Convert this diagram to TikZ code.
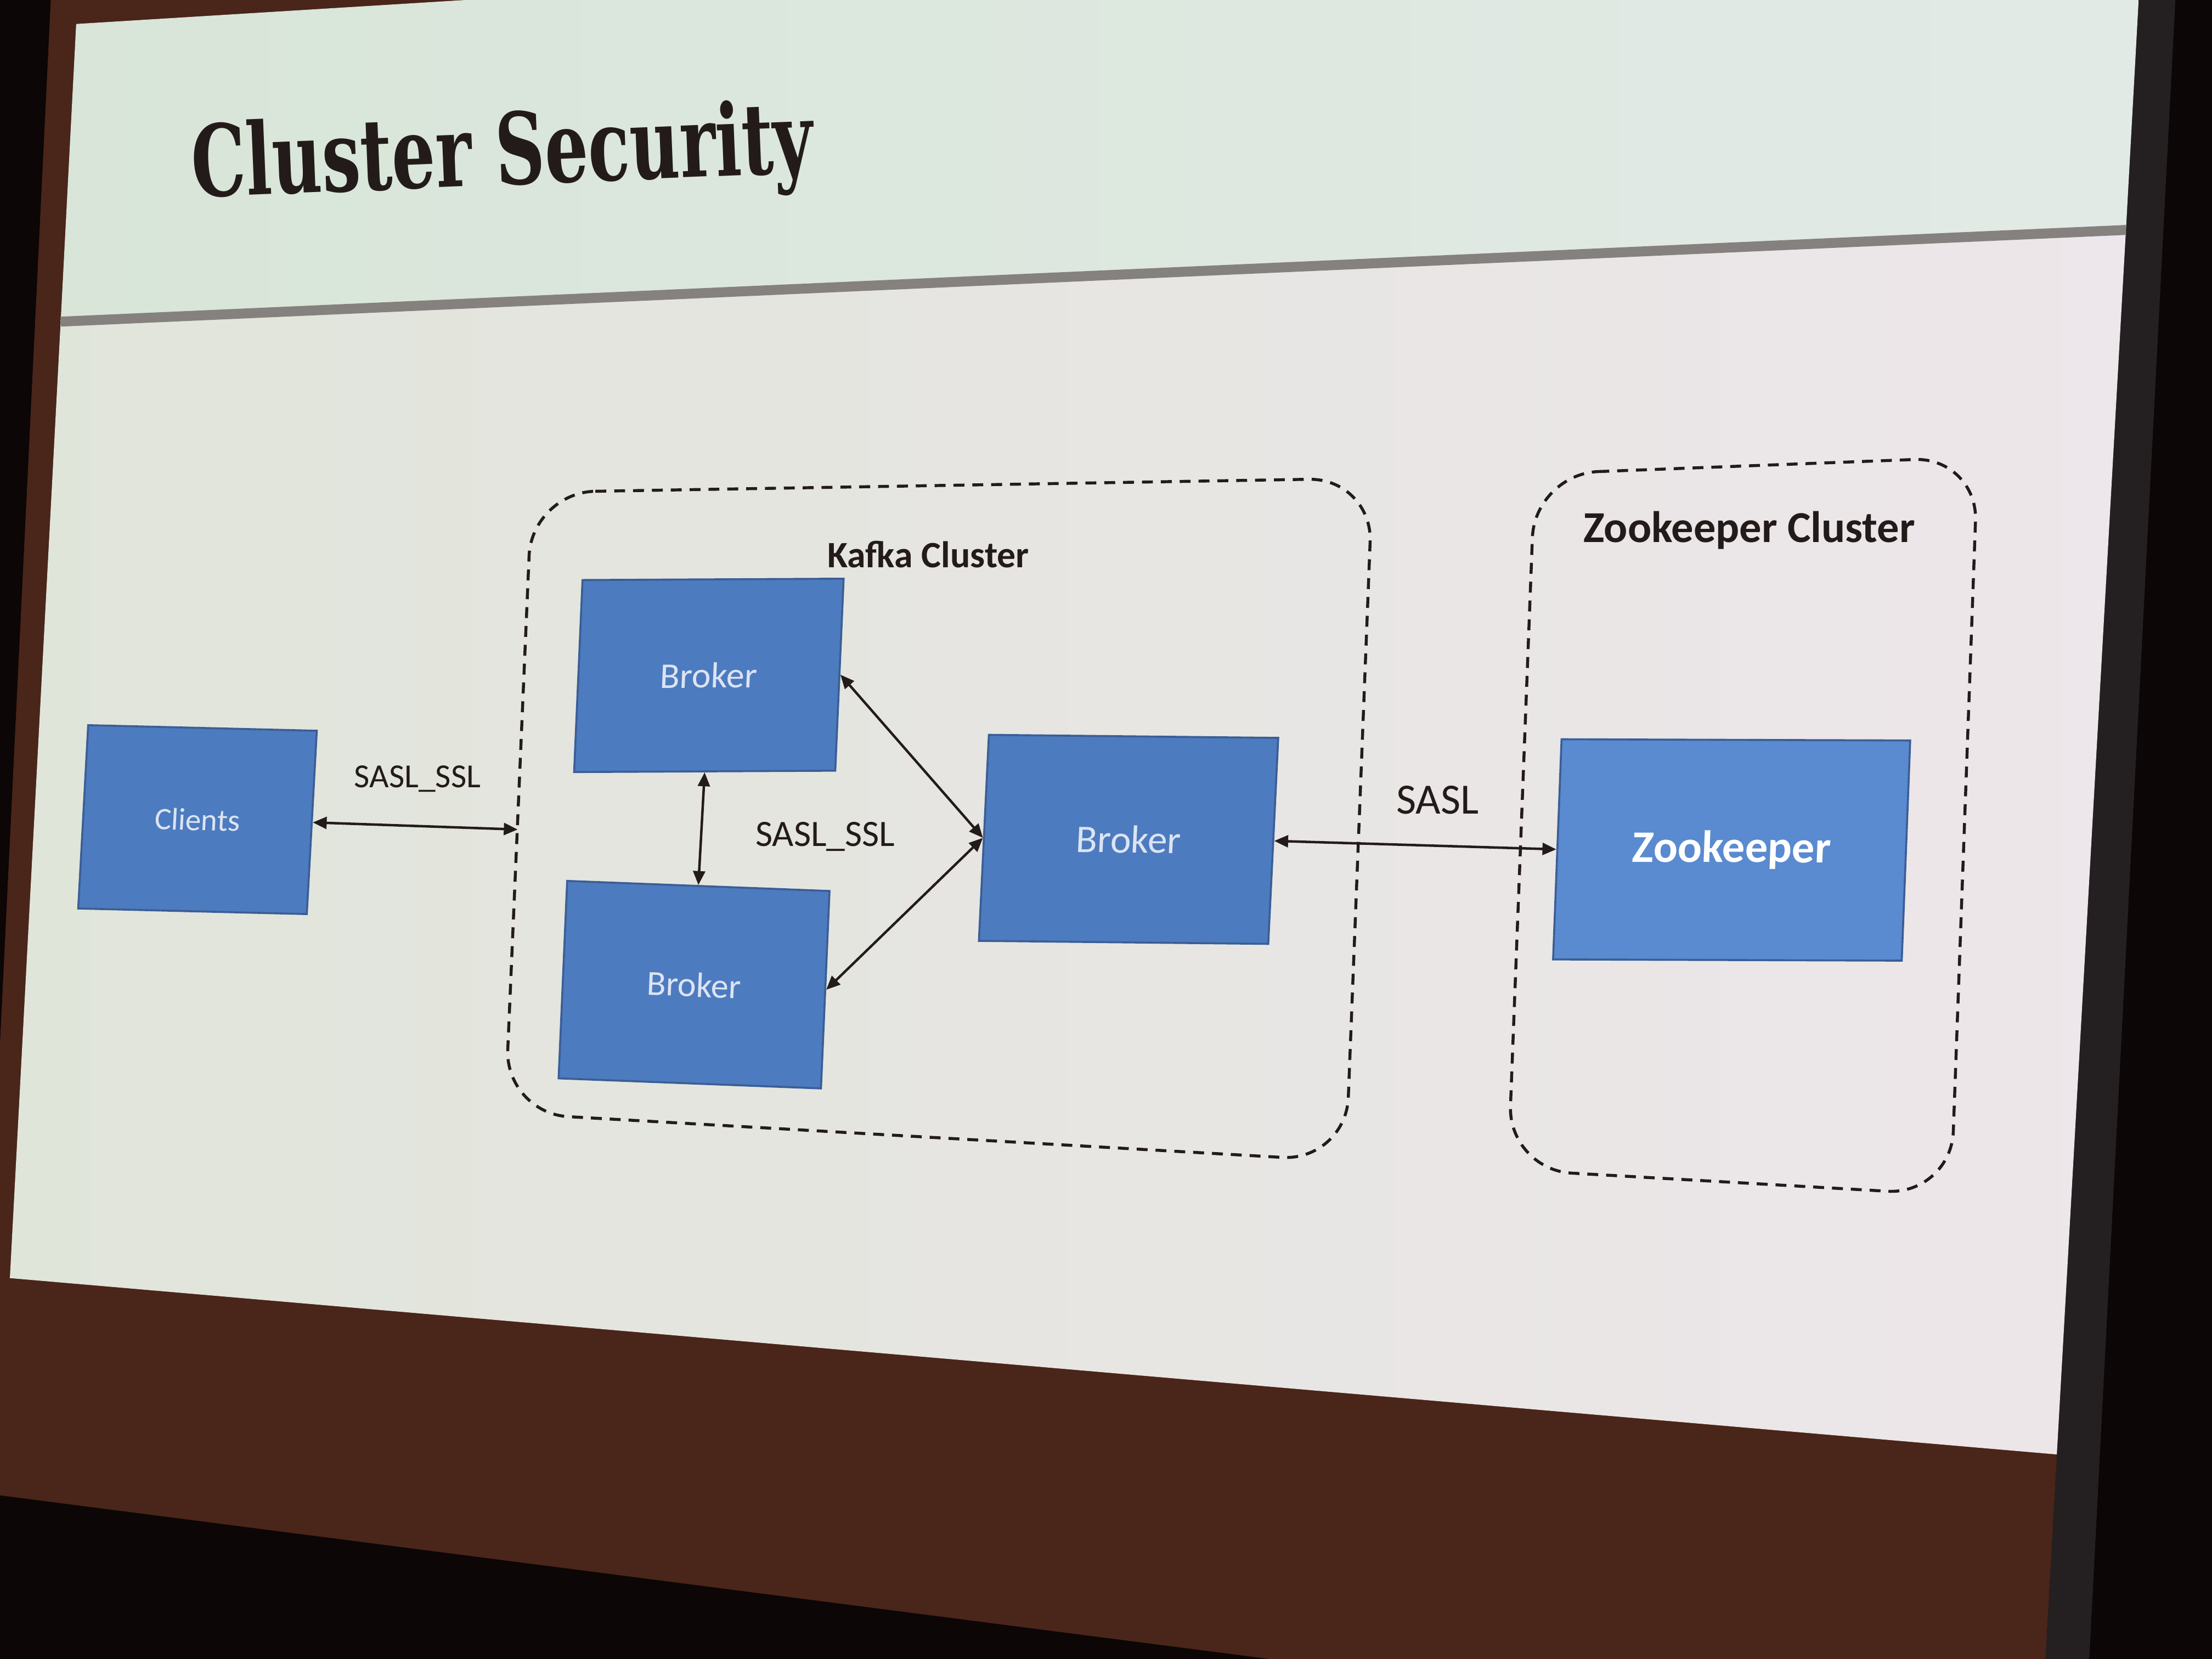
\documentclass[tikz,border=0pt]{standalone}
\usepackage{fontspec}
\setmainfont{Carlito}
\newfontfamily\titlefont{DejaVu Serif}
\usepackage{xcolor}
\usepackage{tikz}
\usetikzlibrary{arrows.meta}

\definecolor{boxblue}{HTML}{4D7BBF}
\definecolor{zkblue}{HTML}{5A8AD0}
\definecolor{boxedge}{HTML}{3A5E96}
\definecolor{boxtext}{HTML}{DCE4F2}
\definecolor{ink}{HTML}{231B1A}
\definecolor{wallbrown}{HTML}{4A2519}
\definecolor{roomblack}{HTML}{0C0606}
\definecolor{bandgrey}{HTML}{242022}
\definecolor{headleft}{HTML}{D8E5D8}
\definecolor{headright}{HTML}{E2EAE6}
\definecolor{bodyleft}{HTML}{E0E5DA}
\definecolor{bodyright}{HTML}{EDE6EA}
\definecolor{rulegrey}{HTML}{85817F}

\tikzset{
  box/.style={draw=boxedge, line width=0.4pt, fill=boxblue, text=boxtext, inner sep=0pt},
  cluster/.style={draw=ink, line width=0.6pt, dash pattern=on 2.2pt off 1.6pt, rounded corners=0.45cm},
  link/.style={draw=ink, line width=0.5pt, {Triangle[length=2.8pt,width=2.4pt]}-{Triangle[length=2.8pt,width=2.4pt]}},
  lbl/.style={text=ink, inner sep=0pt}
}

\begin{document}
\begin{tikzpicture}[x=0.01cm, y=-0.01cm]
      \useasboundingbox (0,0) rectangle (1568,1176);
        % room and screen
      \fill[roomblack] (0,0) rectangle (1568,1176);
      \fill[wallbrown] (36,0) -- (1516,0) -- (1450,1176) -- (900,1176) -- (0,1060) -- (0,740) -- cycle;
      \fill[bandgrey] (1516,0) -- (1542,0) -- (1481,1176) -- (1450,1176) -- cycle;
      \shade[left color=headleft, right color=headright] (54,17) -- (330,0) -- (1516,0) -- (1507,163) -- (43,228) -- cycle;
      \shade[left color=bodyleft, right color=bodyright] (43,228) -- (1507,163) -- (1458,1031) -- (7,906) -- cycle;
      \draw[rulegrey, line width=2pt] (43,228) -- (1507,163);
      \node[anchor=base, text=ink, font=\titlefont\bfseries\fontsize{20}{24}\selectfont, rotate=2.3, xscale=0.69] (T) at (357,131) {Cluster Security};
        % clusters
      \draw[cluster] (377,349) -- (973,339) -- (954,823) -- (358,789) -- cycle;
      \draw[cluster] (1088,336) -- (1402,324) -- (1383,847) -- (1069,829) -- cycle;
      \coordinate (KL) at (367,588);
      \node[lbl, font=\bfseries\fontsize{7.5}{9}\selectfont] (KC) at (658,393) {Kafka Cluster};
      \node[lbl, font=\bfseries\fontsize{8.9}{10}\selectfont] (ZC) at (1240,376) {Zookeeper Cluster};
        % boxes
      \node[box, minimum width=1.62cm, minimum height=1.30cm, rotate=-1.4, xslant=0.03, font=\fontsize{6.3}{8}\selectfont] (Cl) at (140,581) {Clients};
      \node[box, minimum width=1.85cm, minimum height=1.36cm, rotate=0.3, xslant=0.049, font=\fontsize{7.3}{9}\selectfont] (B1) at (502.5,478.75) {Broker};
      \node[box, minimum width=1.86cm, minimum height=1.40cm, rotate=-2.2, xslant=0.005, font=\fontsize{7.1}{9}\selectfont] (B2) at (492,698) {Broker};
      \node[box, minimum width=2.05cm, minimum height=1.46cm, rotate=-0.6, xslant=0.038, font=\fontsize{7.9}{9}\selectfont] (B3) at (800,595) {Broker};
      \node[box, fill=zkblue, text=white, minimum width=2.47cm, minimum height=1.56cm, rotate=-0.2, xslant=0.035, font=\bfseries\fontsize{9.1}{11}\selectfont] (ZK) at (1227.5,602.5) {Zookeeper};
        % labels
      \node[lbl, font=\fontsize{6.8}{8}\selectfont] (L1) at (296,552) {SASL\_SSL};
      \node[lbl, font=\fontsize{7.5}{9}\selectfont] (L2) at (585,593) {SASL\_SSL};
      \node[lbl, font=\fontsize{8.7}{10}\selectfont] (L3) at (1019,567) {SASL};
        % links
      \draw[link] (Cl.east) -- (KL);
      \draw[link] (B1.south) -- (B2.north);
      \draw[link] (B1.east) -- (B3.west);
      \draw[link] (B2.east) -- (B3.west);
      \draw[link] (B3.east) -- (ZK.west);
\end{tikzpicture}
\end{document}
